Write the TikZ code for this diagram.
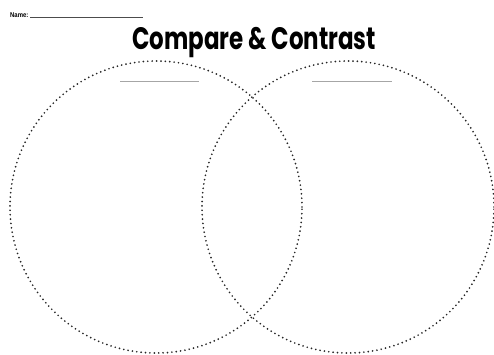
\documentclass[tikz,border=0pt]{standalone}
\usepackage{fontspec}
\newfontfamily\titlefont{Poppins}
\newfontfamily\namefont{Liberation Sans}
\begin{document}
\begin{tikzpicture}[x=1pt,y=-1pt,
  ring/.style={draw=black!85, line width=1.9pt, line cap=round, dash pattern=on 0pt off 4.4pt},
  blank/.style={draw=black!35, line width=0.9pt},
  nameline/.style={draw=black!70, line width=0.5pt}]
\useasboundingbox (0,0) rectangle (494,354);
\node[font=\namefont\bfseries\fontsize{7}{8}\selectfont, anchor=base west, inner sep=0, xscale=0.85] (name) at (10,17) {Name:};
\coordinate (nl1) at (30,17.5);
\coordinate (nl2) at (143,17.5);
\draw[nameline] (nl1) -- (nl2);
\node[font=\titlefont\bfseries\fontsize{31}{34}\selectfont, xscale=0.74, inner sep=0] (title) at (254,43) {Compare \& Contrast};
\node[circle, ring, minimum size=292pt, inner sep=0] (left) at (156,207) {};
\node[circle, ring, minimum size=292pt, inner sep=0] (right) at (348,207) {};
\coordinate (la) at (120,81); \coordinate (lb) at (199,81);
\coordinate (ra) at (312,81); \coordinate (rb) at (392,81);
\draw[blank] (la) -- (lb);
\draw[blank] (ra) -- (rb);
\end{tikzpicture}
\end{document}
